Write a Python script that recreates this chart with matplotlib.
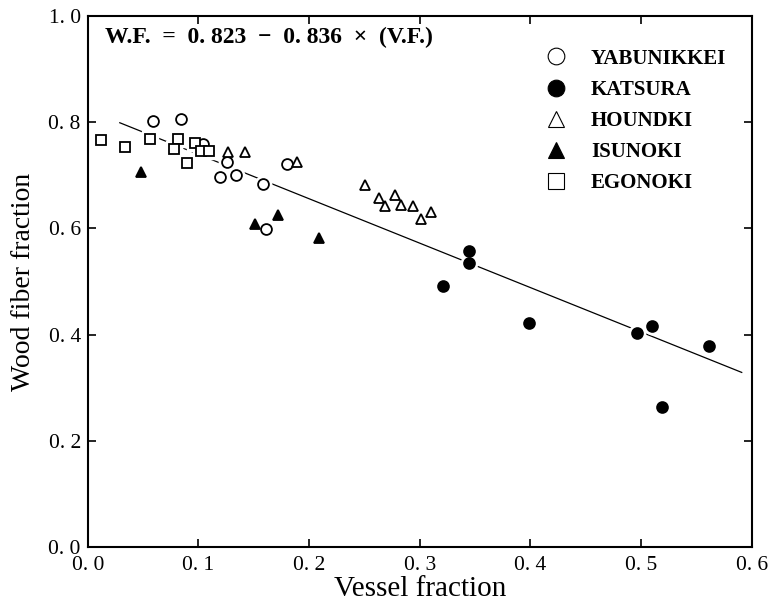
import matplotlib
matplotlib.use("Agg")
import numpy as np
import matplotlib.pyplot as plt
from matplotlib.lines import Line2D

plt.rcParams["font.family"] = ["Liberation Serif", "DejaVu Serif"]

# --- data ---
yabunikkei_x = [0.059, 0.084, 0.104, 0.126, 0.120, 0.134, 0.158, 0.180, 0.161]
yabunikkei_y = [0.802, 0.806, 0.758, 0.725, 0.696, 0.700, 0.684, 0.721, 0.599]

katsura_x = [0.345, 0.345, 0.321, 0.399, 0.496, 0.510, 0.561, 0.519]
katsura_y = [0.558, 0.535, 0.491, 0.421, 0.404, 0.416, 0.379, 0.264]

houndki_x = [0.127, 0.142, 0.189, 0.251, 0.263, 0.278, 0.269, 0.283, 0.294, 0.301, 0.310]
houndki_y = [0.743, 0.743, 0.724, 0.682, 0.657, 0.663, 0.642, 0.644, 0.642, 0.618, 0.631]

isunoki_x = [0.048, 0.151, 0.172, 0.209]
isunoki_y = [0.706, 0.609, 0.625, 0.582]

egonoki_x = [0.012, 0.034, 0.056, 0.082, 0.078, 0.090, 0.097, 0.102, 0.110]
egonoki_y = [0.767, 0.753, 0.769, 0.768, 0.750, 0.723, 0.760, 0.745, 0.746]

# regression W.F. = a - b * V.F.
fit_a, fit_b = 0.823, 0.836
fit_range = [0.029, 0.591]

ticks_x = [0.0, 0.1, 0.2, 0.3, 0.4, 0.5, 0.6]
ticks_y = [0.0, 0.2, 0.4, 0.6, 0.8, 1.0]

series = [
    ("YABUNIKKEI", yabunikkei_x, yabunikkei_y, "o", "white"),
    ("KATSURA", katsura_x, katsura_y, "o", "black"),
    ("HOUNDKI", houndki_x, houndki_y, "^", "white"),
    ("ISUNOKI", isunoki_x, isunoki_y, "^", "black"),
    ("EGONOKI", egonoki_x, egonoki_y, "s", "white"),
]

fig = plt.figure(figsize=(7.83, 6.08), dpi=100)
ax = fig.add_axes([0.112, 0.100, 0.848, 0.874])

xf = np.array(fit_range)
ax.plot(xf, fit_a - fit_b * xf, color="black", lw=0.9, zorder=1)

handles = []
for name, xs, ys, mk, fc in series:
    ms = 7.8 if mk == "o" else 7.2
    # white halo so the fit line breaks around each marker
    ax.plot(xs, ys, ls="none", marker=mk, ms=ms + 4, mfc="white", mec="white", zorder=2)
    ax.plot(xs, ys, ls="none", marker=mk, ms=ms, mfc=fc, mec="black", mew=1.3, zorder=3)
    handles.append(Line2D([], [], ls="none", marker=mk, ms=12, mfc=fc, mec="black",
                          mew=0.8, label=name))

ax.legend(handles=handles, loc="upper left", bbox_to_anchor=(0.689, 0.938), frameon=False,
          prop={"size": 15, "weight": "bold"}, handlelength=1.0, handletextpad=1.2,
          labelspacing=0.53, borderpad=0, borderaxespad=0)

ax.text(0.026, 0.960, "W.F.  =  0. 823  \u2212  0. 836  \u00d7  (V.F.)", transform=ax.transAxes,
        fontsize=17, fontweight="bold", va="center", ha="left")

ax.set_xlim(0.0, 0.6)
ax.set_ylim(0.0, 1.0)
ax.set_xticks(ticks_x)
ax.set_xticklabels([f"{v:.1f}".replace(".", ". ") for v in ticks_x])
ax.set_yticks(ticks_y)
ax.set_yticklabels([f"{v:.1f}".replace(".", ". ") for v in ticks_y])
ax.tick_params(direction="in", top=True, right=True, length=6, width=1.2,
               labelsize=15.5)
ax.tick_params(axis="x", pad=6)
ax.tick_params(axis="y", pad=5)
for s in ax.spines.values():
    s.set_linewidth(1.5)

ax.set_xlabel("Vessel fraction", fontsize=21, labelpad=1)
ax.set_ylabel("Wood fiber fraction", fontsize=20, labelpad=9)

fig.savefig("out.png", dpi=100)
